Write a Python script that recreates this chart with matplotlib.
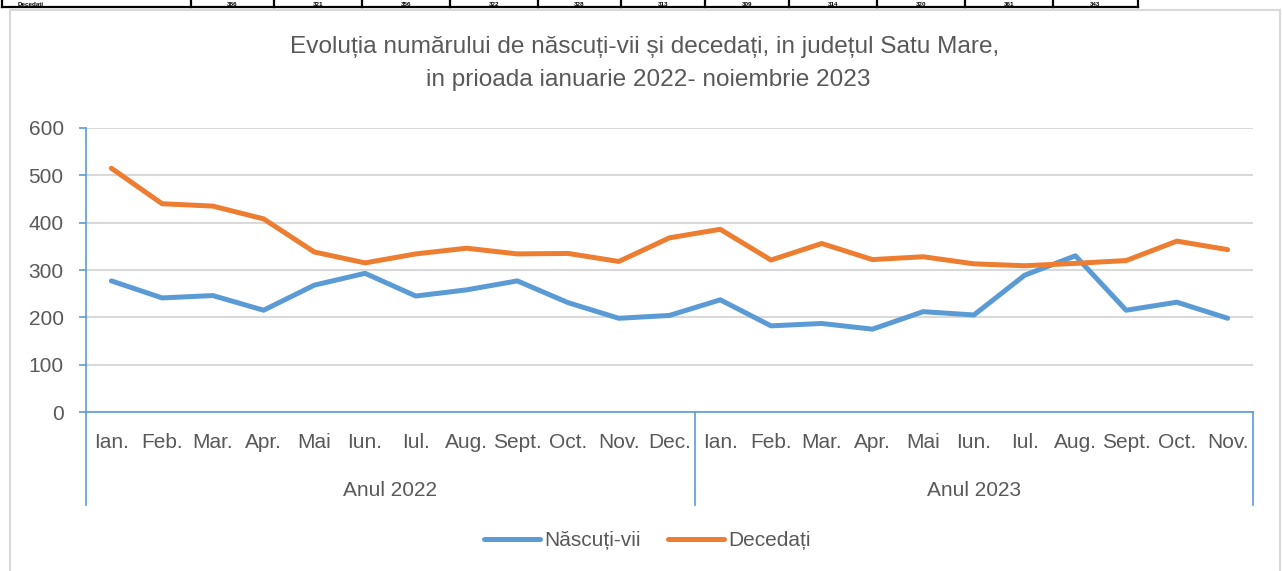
import matplotlib
matplotlib.use('Agg')
import matplotlib.pyplot as plt
import matplotlib.transforms as mtransforms
from matplotlib.patches import Rectangle
import numpy as np

plt.rcParams['font.family'] = ['Liberation Sans', 'DejaVu Sans']

months = ['Ian.', 'Feb.', 'Mar.', 'Apr.', 'Mai', 'Iun.', 'Iul.', 'Aug.', 'Sept.', 'Oct.', 'Nov.', 'Dec.',
          'Ian.', 'Feb.', 'Mar.', 'Apr.', 'Mai', 'Iun.', 'Iul.', 'Aug.', 'Sept.', 'Oct.', 'Nov.']
years = ['Anul 2022', 'Anul 2023']
months_per_year = [12, 11]

nascuti = [277, 241, 246, 215, 268, 293, 245, 258, 277, 231, 198, 204,
           237, 182, 187, 175, 212, 205, 289, 330, 215, 232, 198]
decedati = [515, 440, 435, 408, 338, 315, 334, 346, 334, 335, 318, 368,
            386, 321, 356, 322, 328, 313, 309, 314, 320, 361, 343]

# cut-off table row above the chart
table_label = 'Decedați'
table_values = [386, 321, 356, 322, 328, 313, 309, 314, 320, 361, 343]

blue = '#5b9bd5'
orange = '#ed7d31'
grey_txt = '#595959'
grid_c = '#d9d9d9'

W, H = 1282, 571
fig = plt.figure(figsize=(W / 100, H / 100), dpi=100)

def fx(px):
    return px / W

def fy(py):
    return 1 - py / H

# table fragment at the very top (only a thin strip of it is visible)
edges = [2, 191, 274, 362, 450, 538, 621, 705, 789, 877, 965, 1053, 1138]
fig.add_artist(plt.Line2D([fx(2), fx(1138)], [fy(7), fy(7)], color='black', lw=1.6))
for e in edges:
    fig.add_artist(plt.Line2D([fx(e), fx(e)], [fy(0), fy(7)], color='black', lw=1.6))
fig.text(fx(18), fy(5.5), table_label, fontsize=4.5, fontweight='bold', va='baseline', ha='left')
for i, v in enumerate(table_values):
    xc = (edges[i + 1] + edges[i + 2]) / 2
    fig.text(fx(xc), fy(5.5), str(v), fontsize=4.5, fontweight='bold', va='baseline', ha='center')

# chart border
fig.add_artist(Rectangle((fx(10), fy(575)), fx(1280) - fx(10), fy(10) - fy(575),
                         fill=False, edgecolor=grid_c, lw=1.5, transform=fig.transFigure))

# title
fig.text(0.503, fy(47), 'Evoluția numărului de născuți-vii și decedați, in județul Satu Mare,',
         ha='center', va='center', fontsize=17.6, color=grey_txt)
fig.text(0.506, fy(80), 'in prioada ianuarie 2022- noiembrie 2023',
         ha='center', va='center', fontsize=17.6, color=grey_txt)

ax = fig.add_axes([fx(86), fy(412), fx(1253) - fx(86), fy(128) - fy(412)])
x = np.arange(len(months))
l1, = ax.plot(x, nascuti, color=blue, lw=3.6, solid_capstyle='round', solid_joinstyle='round', label='Născuți-vii')
l2, = ax.plot(x, decedati, color=orange, lw=3.6, solid_capstyle='round', solid_joinstyle='round', label='Decedați')

ax.set_xlim(-0.5, len(months) - 0.5)
ax.set_ylim(0, 600)
ax.set_yticks(range(0, 601, 100))
ax.yaxis.grid(True, color=grid_c, lw=1.5)
ax.set_axisbelow(True)
for s in ['top', 'right']:
    ax.spines[s].set_visible(False)
ax.spines['left'].set_color(blue)
ax.spines['bottom'].set_color(blue)
ax.spines['left'].set_linewidth(1.2)
ax.spines['bottom'].set_linewidth(1.2)
ax.tick_params(axis='y', colors=blue, labelcolor=grey_txt, length=5, width=1.2, pad=11, labelsize=15)
ax.set_xticks([])

# two-level category axis
trans = mtransforms.blended_transform_factory(ax.transData, ax.transAxes)
for i, m in enumerate(months):
    ax.text(i, -0.109, m, transform=trans, ha='center', va='center', fontsize=15, color=grey_txt)
start = 0
bounds = [-0.5]
for yname, n in zip(years, months_per_year):
    mid = start + (n - 1) / 2
    ax.text(mid, -0.275, yname, transform=trans, ha='center', va='center', fontsize=15, color=grey_txt)
    start += n
    bounds.append(start - 0.5)
for b in bounds:
    ax.plot([b, b], [0, -0.327], transform=trans, color=blue, lw=1.2, clip_on=False)

fig.legend(handles=[l1, l2], loc='center', bbox_to_anchor=(0.505, fy(541)), ncol=2,
           frameon=False, fontsize=15, handlelength=2.7, handletextpad=0.2, columnspacing=1.3,
           labelcolor=grey_txt)

fig.savefig('out.png', dpi=100)
